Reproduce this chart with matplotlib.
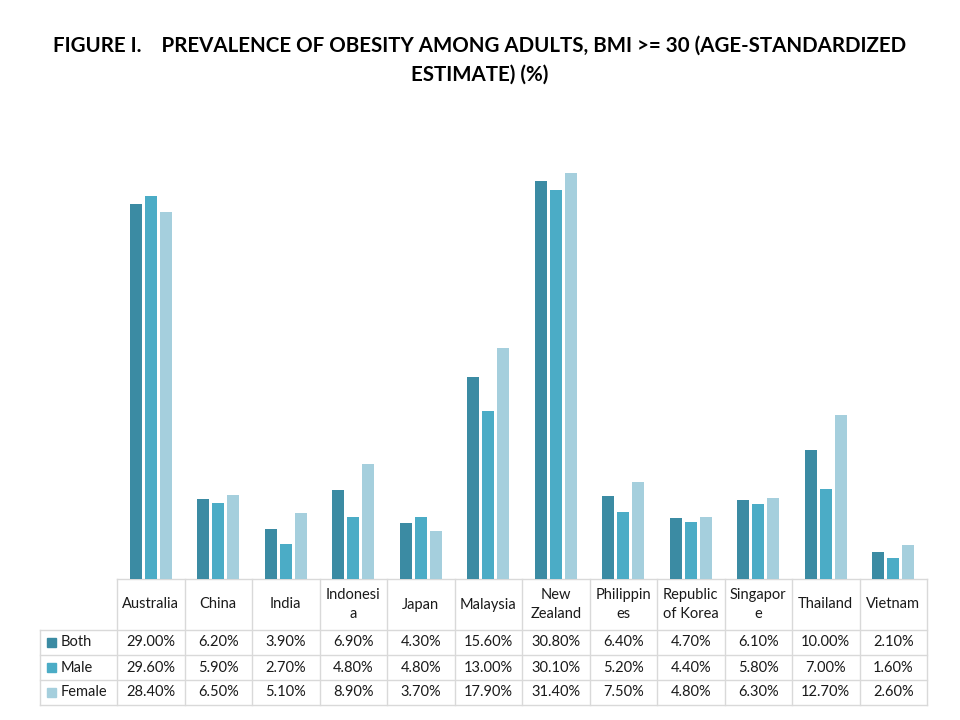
import matplotlib
matplotlib.use("Agg")
import matplotlib.pyplot as plt
import numpy as np

countries = ["Australia", "China", "India", "Indonesi\na", "Japan", "Malaysia",
             "New\nZealand", "Philippin\nes", "Republic\nof Korea", "Singapor\ne",
             "Thailand", "Vietnam"]
both = [29.0, 6.2, 3.9, 6.9, 4.3, 15.6, 30.8, 6.4, 4.7, 6.1, 10.0, 2.1]
male = [29.6, 5.9, 2.7, 4.8, 4.8, 13.0, 30.1, 5.2, 4.4, 5.8, 7.0, 1.6]
female = [28.4, 6.5, 5.1, 8.9, 3.7, 17.9, 31.4, 7.5, 4.8, 6.3, 12.7, 2.6]
series_names = ["Both", "Male", "Female"]
colors = ["#3B8BA3", "#4BACC6", "#A5CFDD"]

plt.rcParams['font.family'] = ['Lato', 'DejaVu Sans']

fig = plt.figure(figsize=(9.6, 7.2), dpi=100)
fig.patch.set_facecolor('white')

# plot area in pixels: x 117..927, bars bottom at 579
W, H = 960.0, 720.0
left, right, bottom, top = 117, 927, 579, 126.5
ax = fig.add_axes([left / W, 1 - bottom / H, (right - left) / W, (bottom - top) / H])

x = np.arange(len(countries))
off = 0.222
for i, (vals, c, name) in enumerate(zip([both, male, female], colors, series_names)):
    ax.bar(x + (i - 1) * off, vals, width=0.18, color=c, label=name)

ax.set_xlim(-0.5, len(countries) - 0.5)
ax.set_ylim(0, 35)
ax.axis('off')

# data table drawn underneath in pixel coordinates
ov = fig.add_axes([0, 0, 1, 1], zorder=-1)
ov.set_xlim(0, W)
ov.set_ylim(H, 0)
ov.axis('off')

grid = '#D9D9D9'
txt = '#1A1A1A'
colw = (right - left) / len(countries)
row_y = [579, 630, 655, 680, 705]
lab_left = 40

ov.plot([left, right], [row_y[0], row_y[0]], color=grid, lw=1)
for y in row_y[1:]:
    ov.plot([lab_left, right], [y, y], color=grid, lw=1)
for k in range(len(countries) + 1):
    xx = left + k * colw
    ov.plot([xx, xx], [row_y[0], row_y[-1]], color=grid, lw=1)
ov.plot([lab_left, lab_left], [row_y[1], row_y[-1]], color=grid, lw=1)

for k, name in enumerate(countries):
    cx = left + (k + 0.5) * colw
    ov.text(cx, (row_y[0] + row_y[1]) / 2, name, ha='center', va='center',
            fontsize=10.5, color=txt, linespacing=1.45)

for r, (vals, c, name) in enumerate(zip([both, male, female], colors, series_names)):
    cy = (row_y[r + 1] + row_y[r + 2]) / 2
    ov.add_patch(plt.Rectangle((47, cy - 5), 9, 9, color=c))
    ov.text(61, cy, name, ha='left', va='center', fontsize=10.5, color=txt)
    for k, v in enumerate(vals):
        cx = left + (k + 0.5) * colw
        ov.text(cx, cy, f"{v:.2f}%", ha='center', va='center', fontsize=10.5, color=txt)

fig.text(0.5, 1 - 46 / H, "FIGURE I.    PREVALENCE OF OBESITY AMONG ADULTS, BMI >= 30 (AGE-STANDARDIZED",
         ha='center', va='center', fontsize=14.8, fontweight='bold')
fig.text(0.5, 1 - 75 / H, "ESTIMATE) (%)", ha='center', va='center', fontsize=14.8, fontweight='bold')

fig.savefig("out.png", dpi=100)
